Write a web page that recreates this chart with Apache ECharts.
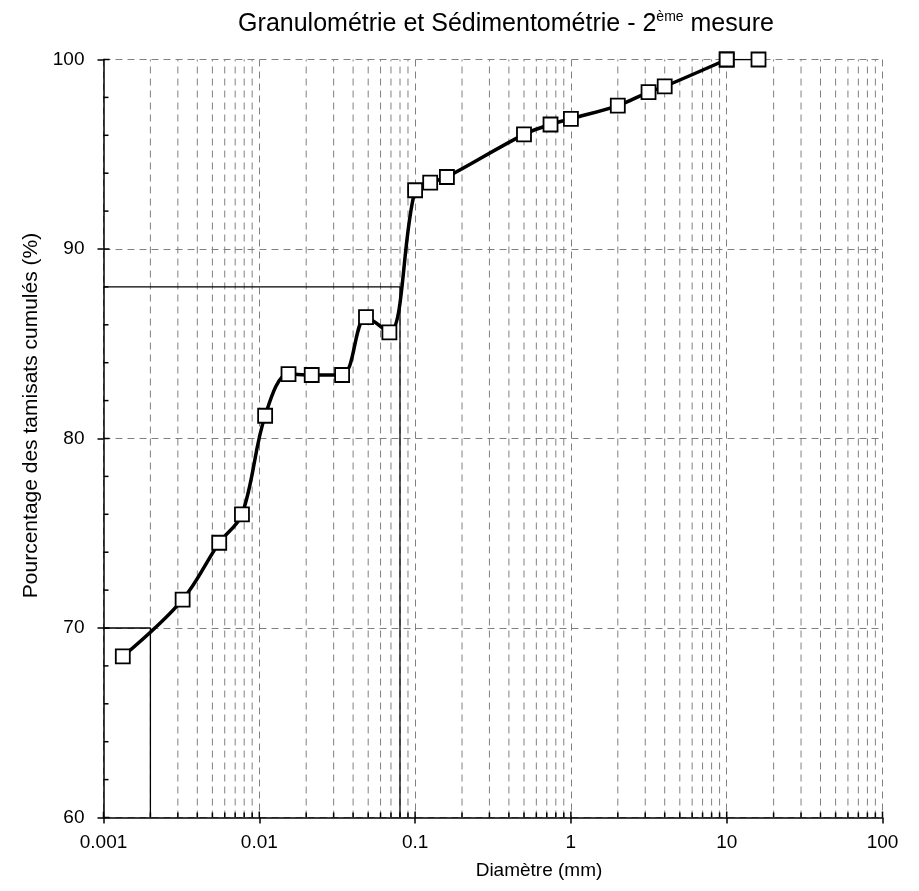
<!DOCTYPE html>
<html>
<head>
<meta charset="utf-8">
<script src="https://cdn.jsdelivr.net/npm/echarts@6/dist/echarts.min.js"></script>
<style>html,body{margin:0;padding:0;background:#fff;}#c{width:919px;height:891px;}</style>
</head>
<body>
<div id="c"></div>
<script>
// ---- data ----
const diameters = [0.00133, 0.00322, 0.00553, 0.00774, 0.0109, 0.0154, 0.0217, 0.034, 0.0484, 0.0684, 0.1, 0.125, 0.16, 0.5, 0.74, 1, 2, 3.15, 4, 10];
const passing   = [68.5, 71.5, 74.5, 76.0, 81.2, 83.4, 83.35, 83.35, 86.4, 85.6, 93.1, 93.5, 93.8, 96.05, 96.57, 96.87, 97.57, 98.28, 98.58, 100];
const tailDiameters = [10, 16];
const tailPassing = [100, 100];
const refLineA_x = [0.001, 0.08, 0.08];
const refLineA_y = [88, 88, 60];
const refLineB_x = [0.001, 0.002, 0.002];
const refLineB_y = [70, 70, 60];
const xTickLabels = ['0.001', '0.01', '0.1', '1', '10', '100'];
const xDecades = [0.001, 0.01, 0.1, 1, 10];
const minorMultipliers = [2, 3, 4, 5, 6, 7, 8, 9];
const yTicks = [60, 62, 64, 66, 68, 70, 72, 74, 76, 78, 80, 82, 84, 86, 88, 90, 92, 94, 96, 98, 100];

// ---- build ----
const FONT = 'Liberation Sans, Arial, sans-serif';
const zip = (a, b) => a.map((v, i) => [v, b[i]]);
const xTickData = [];
xTickLabels.forEach(l => xTickData.push([parseFloat(l), 60, 1]));
xDecades.forEach(d => minorMultipliers.forEach(m => xTickData.push([+(d * m).toPrecision(3), 60, 0])));
const yTickData = yTicks.map(v => [0.001, v, v % 10 === 0 ? 1 : 0]);

const chart = echarts.init(document.getElementById('c'), null, {renderer: 'canvas'});
chart.setOption({
  animation: false,
  backgroundColor: '#fff',
  title: {
    left: 501, top: 4, textAlign: 'center',
    text: '{a|Granulométrie et Sédimentométrie - 2}{b|ème}{a| mesure}',
    textStyle: {
      fontWeight: 'normal',
      rich: {
        a: {fontFamily: FONT, fontSize: 25, fontWeight: 'normal', color: '#000', lineHeight: 31},
        b: {fontFamily: FONT, fontSize: 14, fontWeight: 'normal', color: '#000', lineHeight: 31, padding: [0, 0, 14, 0]}
      }
    }
  },
  grid: {left: 103.5, right: 36.5, top: 59.5, bottom: 73.5, containLabel: false},
  xAxis: {
    type: 'log', logBase: 10, min: 0.001, max: 100,
    name: 'Diamètre (mm)', nameLocation: 'middle', nameGap: 44,
    nameTextStyle: {fontFamily: FONT, fontSize: 19, color: '#000', padding: [0, 0, 0, 92]},
    axisLine: {lineStyle: {color: '#000', width: 1.5}},
    axisTick: {show: true, inside: false, length: 6, lineStyle: {color: '#000', width: 1.5}},
    axisLabel: {
      fontFamily: FONT, fontSize: 19, color: '#000', margin: 16,
      formatter: v => xTickLabels[Math.round(Math.log10(v)) + 3]
    },
    splitLine: {show: true, lineStyle: {color: '#808080', width: 1, type: [7, 5]}}
  },
  yAxis: {
    type: 'value', min: 60, max: 100, interval: 10,
    name: 'Pourcentage des tamisats cumulés (%)', nameLocation: 'middle', nameGap: 62,
    nameTextStyle: {fontFamily: FONT, fontSize: 21, color: '#000', padding: [0, 0, 0, 46]},
    axisLine: {show: true, lineStyle: {color: '#000', width: 1.5}},
    axisTick: {show: true, inside: false, length: 6, lineStyle: {color: '#000', width: 1.5}},
    axisLabel: {fontFamily: FONT, fontSize: 19, color: '#000', margin: 19},
    splitLine: {show: true, lineStyle: {color: '#808080', width: 1, type: [7, 5]}}
  },
  series: [
    {
      type: 'custom', name: 'xgrid', z: 1, silent: true, clip: false,
      data: xTickData,
      renderItem: (params, api) => {
        const x = api.value(0), major = api.value(2);
        const b = api.coord([x, 60]), t = api.coord([x, 100]);
        const ch = [];
        if (!major) ch.push({type: 'line', shape: {x1: b[0], y1: b[1], x2: t[0], y2: t[1]}, style: {stroke: '#808080', lineWidth: 1, lineDash: [7, 5]}});
        ch.push({type: 'line', shape: {x1: b[0], y1: b[1], x2: b[0], y2: b[1] - (major ? 6 : 5)}, style: {stroke: '#000', lineWidth: 1.5}});
        return {type: 'group', children: ch};
      }
    },
    {
      type: 'custom', name: 'yticks', z: 1, silent: true, clip: false,
      data: yTickData,
      renderItem: (params, api) => {
        const p = api.coord([api.value(0), api.value(1)]);
        const major = api.value(2);
        return {type: 'line', shape: {x1: p[0], y1: p[1], x2: p[0] + (major ? 6 : 5), y2: p[1]}, style: {stroke: '#000', lineWidth: 1.5}};
      }
    },
    {
      type: 'line', name: 'refA', z: 3, silent: true, symbol: 'none',
      data: zip(refLineA_x, refLineA_y),
      lineStyle: {color: '#000', width: 1.3}
    },
    {
      type: 'line', name: 'refB', z: 3, silent: true, symbol: 'none',
      data: zip(refLineB_x, refLineB_y),
      lineStyle: {color: '#000', width: 1.3}
    },
    {
      type: 'line', name: 'tail', z: 4,
      data: zip(tailDiameters, tailPassing),
      symbol: 'rect', symbolSize: 14,
      lineStyle: {color: '#000', width: 1.5},
      itemStyle: {color: '#fff', borderColor: '#000', borderWidth: 1.8}
    },
    {
      type: 'line', name: 'passing', z: 5,
      data: zip(diameters, passing),
      smooth: 0.35,
      symbol: 'rect', symbolSize: 14,
      lineStyle: {color: '#000', width: 3.5},
      itemStyle: {color: '#fff', borderColor: '#000', borderWidth: 1.8}
    }
  ]
});
</script>
</body>
</html>
